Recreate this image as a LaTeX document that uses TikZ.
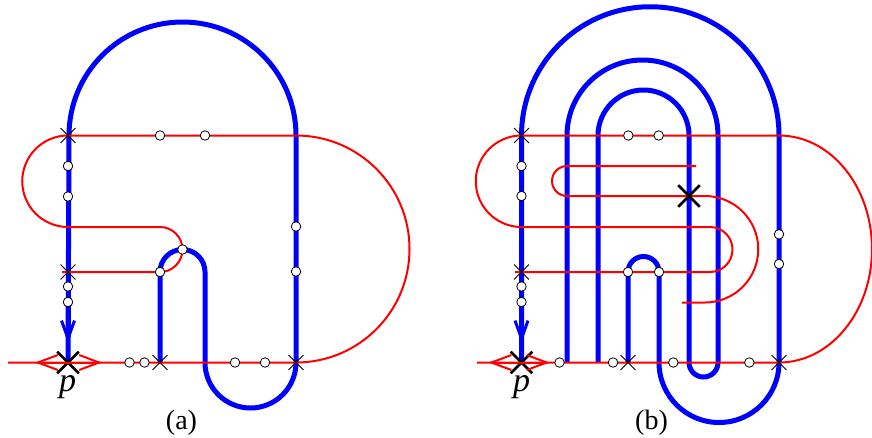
\documentclass[tikz,border=0pt]{standalone}
\usepackage{fontspec}
\setmainfont{Liberation Serif}
\usetikzlibrary{arrows.meta,shapes.misc}
\definecolor{knotB}{RGB}{0,0,255}
\definecolor{knotR}{RGB}{255,0,0}

\begin{document}
\begin{tikzpicture}[x=1pt,y=-1pt,
  blueline/.style={knotB,line width=5pt},
  redline/.style={knotR,line width=2pt},
  dotmark/.style={circle,draw,fill=white,line width=0.8pt,minimum size=9.5pt,inner sep=0pt},
  crossmark/.style={cross out,draw,line width=0.9pt,minimum size=14pt,inner sep=0pt},
  bigmark/.style={cross out,draw,line width=2.6pt,minimum size=19pt,inner sep=0pt},
  plbl/.style={font=\fontsize{34}{36}\selectfont\itshape,inner sep=0pt},
  lbl/.style={font=\fontsize{28}{30}\selectfont,inner sep=0pt}]
\useasboundingbox (0,0) rectangle (872,437);
% (a)
\draw[blueline] (160,362.5) -- (160,272) arc[start angle=180,end angle=360,radius=22.5] -- (205,362.5)
  arc[start angle=180,end angle=0,radius=45.5] -- (296,135.5) arc[start angle=0,end angle=-180,radius=113.5] -- (68,362.5);
\draw[blueline,-{Straight Barb[length=18pt,width=13pt,line width=3pt]}] (68,300) -- (68,343);
\draw[redline] (8,362.5) -- (296,362.5) arc[start angle=90,end angle=-90,radius=113.5] -- (68,135.5)
  arc[start angle=-90,end angle=-270,radius=45.75] -- (160,227) arc[start angle=-90,end angle=90,radius=22.5] -- (62,272);
\node[bigmark] (pa) at (68,362.5) {};
\draw[redline,{Straight Barb[length=20pt,width=15pt]}-{Straight Barb[length=20pt,width=15pt]}] ([xshift=-33pt]pa.center) -- ([xshift=34pt]pa.center);
\node[crossmark] (xa1) at (68,135.5) {}; \node[crossmark] (xa2) at (68,272) {};
\node[crossmark] (xa3) at (160,362.5) {}; \node[crossmark] (xa4) at (296,362.5) {};
\node[dotmark] (da1) at (160,135.5) {}; \node[dotmark] (da2) at (205,135.5) {};
\node[dotmark] (da3) at (68,166) {}; \node[dotmark] (da4) at (68,196.5) {};
\node[dotmark] (da5) at (182.5,249.5) {}; \node[dotmark] (da6) at (160,272) {};
\node[dotmark] (da7) at (68,286.5) {}; \node[dotmark] (da8) at (68,302) {};
\node[dotmark] (da9) at (129.5,362.5) {}; \node[dotmark] (da10) at (144.5,362.5) {};
\node[dotmark] (da11) at (235,362.5) {}; \node[dotmark] (da12) at (265,362.5) {};
\node[dotmark] (da13) at (296,226.5) {}; \node[dotmark] (da14) at (296,271.5) {};
\node[plbl] (pla) at (67.5,387) {p};
\node[lbl] (capa) at (181.5,422.5) {(a)};
% (b)
\draw[blueline] (628,362.5) -- (628,272) arc[start angle=180,end angle=360,radius=15.5] -- (659,362.5)
  arc[start angle=180,end angle=0,radius=60] -- (779,135.5) arc[start angle=0,end angle=-180,radius=128.75] -- (521.5,362.5);
\draw[blueline] (567,362.5) -- (567,135.5) arc[start angle=180,end angle=360,radius=75.5] -- (718,362.5)
  arc[start angle=0,end angle=180,radius=14.5] -- (689,135.5) arc[start angle=0,end angle=-180,radius=45.5] -- (598,362.5);
\draw[blueline,-{Straight Barb[length=18pt,width=13pt,line width=3pt]}] (521.5,300) -- (521.5,343);
\draw[redline] (477,362.5) -- (779,362.5) arc[start angle=90,end angle=-90,x radius=93,y radius=113.5] -- (521.5,135.5)
  arc[start angle=-90,end angle=-270,radius=45.75] -- (710,227) arc[start angle=-90,end angle=90,radius=22.5] -- (515,272);
\draw[redline] (696,166) -- (567,166) arc[start angle=-90,end angle=-270,radius=15] -- (705,196)
  arc[start angle=-90,end angle=90,radius=53.25] -- (682,302.5);
\node[bigmark] (pb) at (521.5,362.5) {};
\draw[redline,{Straight Barb[length=20pt,width=15pt]}-{Straight Barb[length=20pt,width=15pt]}] ([xshift=-33pt]pb.center) -- ([xshift=28pt]pb.center);
\node[bigmark] (xb0) at (689,196) {};
\node[crossmark] (xb1) at (521.5,135.5) {}; \node[crossmark] (xb2) at (521.5,272) {};
\node[crossmark] (xb3) at (628,362.5) {}; \node[crossmark] (xb4) at (779,362.5) {};
\node[dotmark] (db1) at (628.3,135.5) {}; \node[dotmark] (db2) at (658.7,135.5) {};
\node[dotmark] (db3) at (521.5,166) {}; \node[dotmark] (db4) at (521.5,196) {};
\node[dotmark] (db5) at (628,272) {}; \node[dotmark] (db6) at (659,272) {};
\node[dotmark] (db7) at (521.5,286.5) {}; \node[dotmark] (db8) at (521.5,302) {};
\node[dotmark] (db9) at (559.5,362.5) {}; \node[dotmark] (db10) at (613,362.5) {};
\node[dotmark] (db11) at (673.3,362.5) {}; \node[dotmark] (db12) at (749.3,362.5) {};
\node[dotmark] (db13) at (779,234.3) {}; \node[dotmark] (db14) at (779,264) {};
\node[plbl] (plb) at (521.5,387) {p};
\node[lbl] (capb) at (651.5,422.5) {(b)};
\end{tikzpicture}
\end{document}
